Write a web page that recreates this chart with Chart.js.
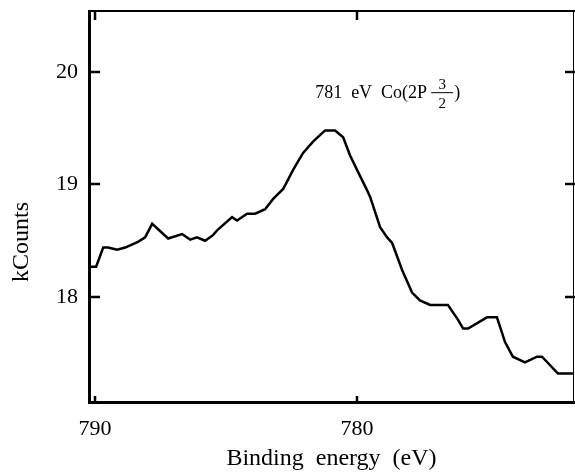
<!DOCTYPE html>
<html>
<head>
<meta charset="utf-8">
<script src="https://cdn.jsdelivr.net/npm/chart.js@4.4.1/dist/chart.umd.min.js"></script>
<style>
  html, body { margin: 0; padding: 0; background: #fff; }
  canvas { display: block; }
</style>
</head>
<body>
<canvas id="xps-chart" width="575" height="474"></canvas>
<script>
// binding energy (eV) and intensity (kCounts)
const energies = [
    790.27, 789.96, 789.69, 789.50, 789.16, 788.85, 788.36, 788.09, 787.82, 787.21,
    786.68, 786.37, 786.11, 785.80, 785.50, 785.31, 784.77, 784.58, 784.20, 783.89,
    783.51, 783.21, 782.82, 782.44, 782.06, 781.68, 781.22, 780.84, 780.53, 780.27,
    780.00, 779.62, 779.50, 779.12, 778.85, 778.66, 778.28, 777.90, 777.60, 777.21,
    776.53, 776.15, 775.95, 775.76, 775.04, 774.66, 774.35, 774.05, 773.59, 773.13,
    772.94, 772.33, 771.76,
];
const kCounts = [
    18.27, 18.27, 18.44, 18.44, 18.42, 18.44, 18.49, 18.53, 18.65, 18.52,
    18.56, 18.51, 18.53, 18.50, 18.55, 18.60, 18.71, 18.68, 18.74, 18.74,
    18.78, 18.87, 18.96, 19.13, 19.28, 19.38, 19.48, 19.48, 19.42, 19.26,
    19.13, 18.95, 18.89, 18.62, 18.53, 18.48, 18.24, 18.04, 17.97, 17.93,
    17.93, 17.80, 17.72, 17.72, 17.82, 17.82, 17.60, 17.47, 17.42, 17.47,
    17.47, 17.32, 17.32,
];
const xTickValues = [790, 780];
const yTickValues = [18, 19, 20];
const xRange = [771.68, 790.27];
const yRange = [17.05, 20.55];
const peakLabel = '781  eV  Co(2P';
const peakFraction = ['3', '2'];
const peakAt = { x: 781.6, y: 19.82 };

const serif = "'Liberation Serif', 'DejaVu Serif', serif";

const noEdgePadding = s => {
    s.paddingTop = 0;
    s.paddingBottom = 0;
    s.paddingLeft = 0;
    s.paddingRight = 0;
};

const framePlugin = {
    id: 'frame',
    afterDraw(chart) {
        const { ctx, chartArea: a, scales: { x, y } } = chart;
        ctx.save();
        ctx.strokeStyle = '#000';
        ctx.lineCap = 'butt';

        // left + bottom heavy, top medium, right thin
        ctx.lineWidth = 3;
        ctx.beginPath();
        ctx.moveTo(a.left + 1.5, a.top);
        ctx.lineTo(a.left + 1.5, a.bottom - 1.5);
        ctx.lineTo(a.right, a.bottom - 1.5);
        ctx.stroke();
        ctx.lineWidth = 2;
        ctx.beginPath();
        ctx.moveTo(a.left, a.top + 1);
        ctx.lineTo(a.right, a.top + 1);
        ctx.stroke();
        ctx.lineWidth = 1;
        ctx.beginPath();
        ctx.moveTo(a.right - 1.5, a.top);
        ctx.lineTo(a.right - 1.5, a.bottom);
        ctx.stroke();

        // inward ticks
        ctx.lineWidth = 2.5;
        ctx.beginPath();
        yTickValues.forEach(v => {
            const py = Math.round(y.getPixelForValue(v));
            ctx.moveTo(a.left, py); ctx.lineTo(a.left + 12, py);
            ctx.moveTo(a.right - 10, py); ctx.lineTo(a.right, py);
        });
        xTickValues.forEach(v => {
            const px = Math.round(x.getPixelForValue(v));
            ctx.moveTo(px, a.top); ctx.lineTo(px, a.top + 10);
            ctx.moveTo(px, a.bottom); ctx.lineTo(px, a.bottom - 8);
        });
        ctx.stroke();

        // peak annotation
        ctx.fillStyle = '#000';
        ctx.textBaseline = 'alphabetic';
        ctx.textAlign = 'left';
        ctx.font = `18px ${serif}`;
        const tx = x.getPixelForValue(peakAt.x);
        const ty = y.getPixelForValue(peakAt.y) + 6;
        ctx.fillText(peakLabel, tx, ty);
        const fx = tx + ctx.measureText(peakLabel).width + 4;
        ctx.font = `15px ${serif}`;
        ctx.textAlign = 'center';
        ctx.fillText(peakFraction[0], fx + 11, ty - 9);
        ctx.fillText(peakFraction[1], fx + 11, ty + 10);
        ctx.lineWidth = 1;
        ctx.beginPath();
        ctx.moveTo(fx, ty - 5.5); ctx.lineTo(fx + 22, ty - 5.5);
        ctx.stroke();
        ctx.font = `18px ${serif}`;
        ctx.textAlign = 'left';
        ctx.fillText(')', fx + 23, ty);

        // y axis title
        ctx.translate(22, 242);
        ctx.rotate(-Math.PI / 2);
        ctx.textAlign = 'center';
        ctx.textBaseline = 'middle';
        ctx.font = `24px ${serif}`;
        ctx.fillText('kCounts', 0, 0);
        ctx.restore();
    },
};

const buildChart = (ctxId) => {
    const ctx = document.getElementById(ctxId);
    if (!ctx || typeof Chart === 'undefined') return null;
    return new Chart(ctx, {
        type: 'line',
        data: {
            datasets: [{
                label: 'Co 2p',
                data: energies.map((e, i) => ({ x: e, y: kCounts[i] })),
                borderColor: '#000',
                borderWidth: 2.5,
                pointRadius: 0,
                tension: 0,
                fill: false,
            }],
        },
        options: {
            responsive: false,
            animation: false,
            events: [],
            layout: { padding: { top: 10, right: 0, left: 0, bottom: 0 } },
            plugins: { legend: { display: false }, tooltip: { enabled: false } },
            scales: {
                x: {
                    type: 'linear',
                    reverse: true,
                    min: xRange[0],
                    max: xRange[1],
                    afterBuildTicks: s => { s.ticks = xTickValues.map(v => ({ value: v })); },
                    afterFit: s => { s.height = 70; noEdgePadding(s); },
                    grid: { display: false, drawTicks: false },
                    border: { display: false },
                    ticks: {
                        color: '#000',
                        padding: 12,
                        maxRotation: 0,
                        font: { family: serif, size: 22 },
                    },
                    title: {
                        display: true,
                        text: 'Binding  energy  (eV)',
                        color: '#000',
                        font: { family: serif, size: 24 },
                        padding: { top: 0, bottom: 1 },
                    },
                },
                y: {
                    min: yRange[0],
                    max: yRange[1],
                    afterBuildTicks: s => { s.ticks = yTickValues.map(v => ({ value: v })); },
                    afterFit: s => { s.width = 88; noEdgePadding(s); },
                    grid: { display: false, drawTicks: false },
                    border: { display: false },
                    ticks: {
                        color: '#000',
                        padding: 10,
                        font: { family: serif, size: 22 },
                    },
                },
            },
        },
        plugins: [framePlugin],
    });
};

buildChart('xps-chart');
</script>
</body>
</html>
